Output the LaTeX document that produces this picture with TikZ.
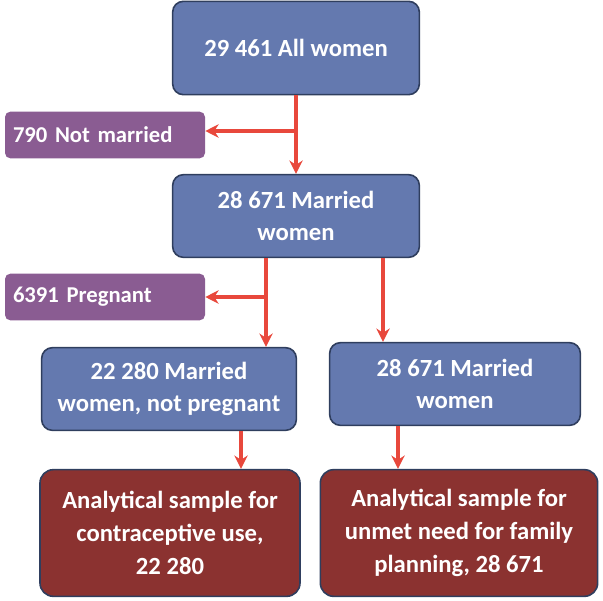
\documentclass[tikz,border=0pt]{standalone}
\usepackage{fontspec}
\setmainfont{Carlito}
\usetikzlibrary{arrows.meta,positioning,calc}
\definecolor{boxblue}{HTML}{6479AF}
\definecolor{boxline}{HTML}{2F3E5E}
\definecolor{boxpurple}{HTML}{8A5C92}
\definecolor{boxred}{HTML}{8B3230}
\definecolor{arrowred}{HTML}{E8483C}
\tikzset{
  stage/.style={draw=boxline,line width=1.2pt,fill=boxblue,rounded corners=8pt,
    text=white,font=\bfseries\fontsize{18.5}{24}\selectfont,align=center,inner sep=0pt},
  excl/.style={fill=boxpurple,rounded corners=4pt,text=white,
    font=\bfseries\fontsize{17}{20}\selectfont,align=left,inner sep=0pt,
    minimum width=150pt,minimum height=35pt,text width=138pt},
  final/.style={draw=boxline,line width=1.2pt,fill=boxred,rounded corners=10pt,
    text=white,font=\bfseries\fontsize{18.5}{24.5}\selectfont,align=center,inner sep=0pt},
  flow/.style={draw=arrowred,line width=2.4pt,-{Stealth[length=10pt,width=10pt]}}
}
\begin{document}
\begin{tikzpicture}[x=0.75pt,y=-0.75pt]
\useasboundingbox (0,0) rectangle (603,600);
% boxes
\node[stage,minimum width=185pt,minimum height=70pt] (all) at (296,48) {29 461 All women};
\node[excl] (notmar) at (105,135) {790 Not married};
\node[stage,minimum width=185pt,minimum height=62pt] (mar) at (296,216) {28 671 Married\\women};
\node[excl] (preg) at (105,297) {6391 Pregnant};
\node[stage,minimum width=191pt,minimum height=62pt] (marnp) at (169,389) {22 280 Married\\women, not pregnant};
\node[stage,minimum width=188pt,minimum height=62pt] (marr) at (455,384) {28 671 Married\\women};
\node[final,minimum width=195pt,minimum height=95pt] (anl) at (170,533) {Analytical sample for\\contraceptive use,\\22 280};
\node[final,minimum width=208pt,minimum height=95pt] (anr) at (459,533) {Analytical sample for\\unmet need for family\\planning, 28 671};
% branch points
\coordinate (b1) at (296,131);
\coordinate (b2) at (266,297);
% connectors
\draw[flow] (all.south) -- (mar.north);
\draw[flow] (b1) -- (b1 -| notmar.east);
\draw[flow] (mar.south -| b2) -- (b2 |- marnp.north);
\draw[flow] (b2) -- (notmar.east |- b2);
\draw[flow] ($(mar.south)+(87,0)$) -- ($(marr.north)+(-72,0)$);
\draw[flow] ($(marnp.south)+(72,0)$) -- ($(anl.north)+(71,0)$);
\draw[flow] ($(marr.south)+(-57,0)$) -- ($(anr.north)+(-61,0)$);
\end{tikzpicture}
\end{document}
